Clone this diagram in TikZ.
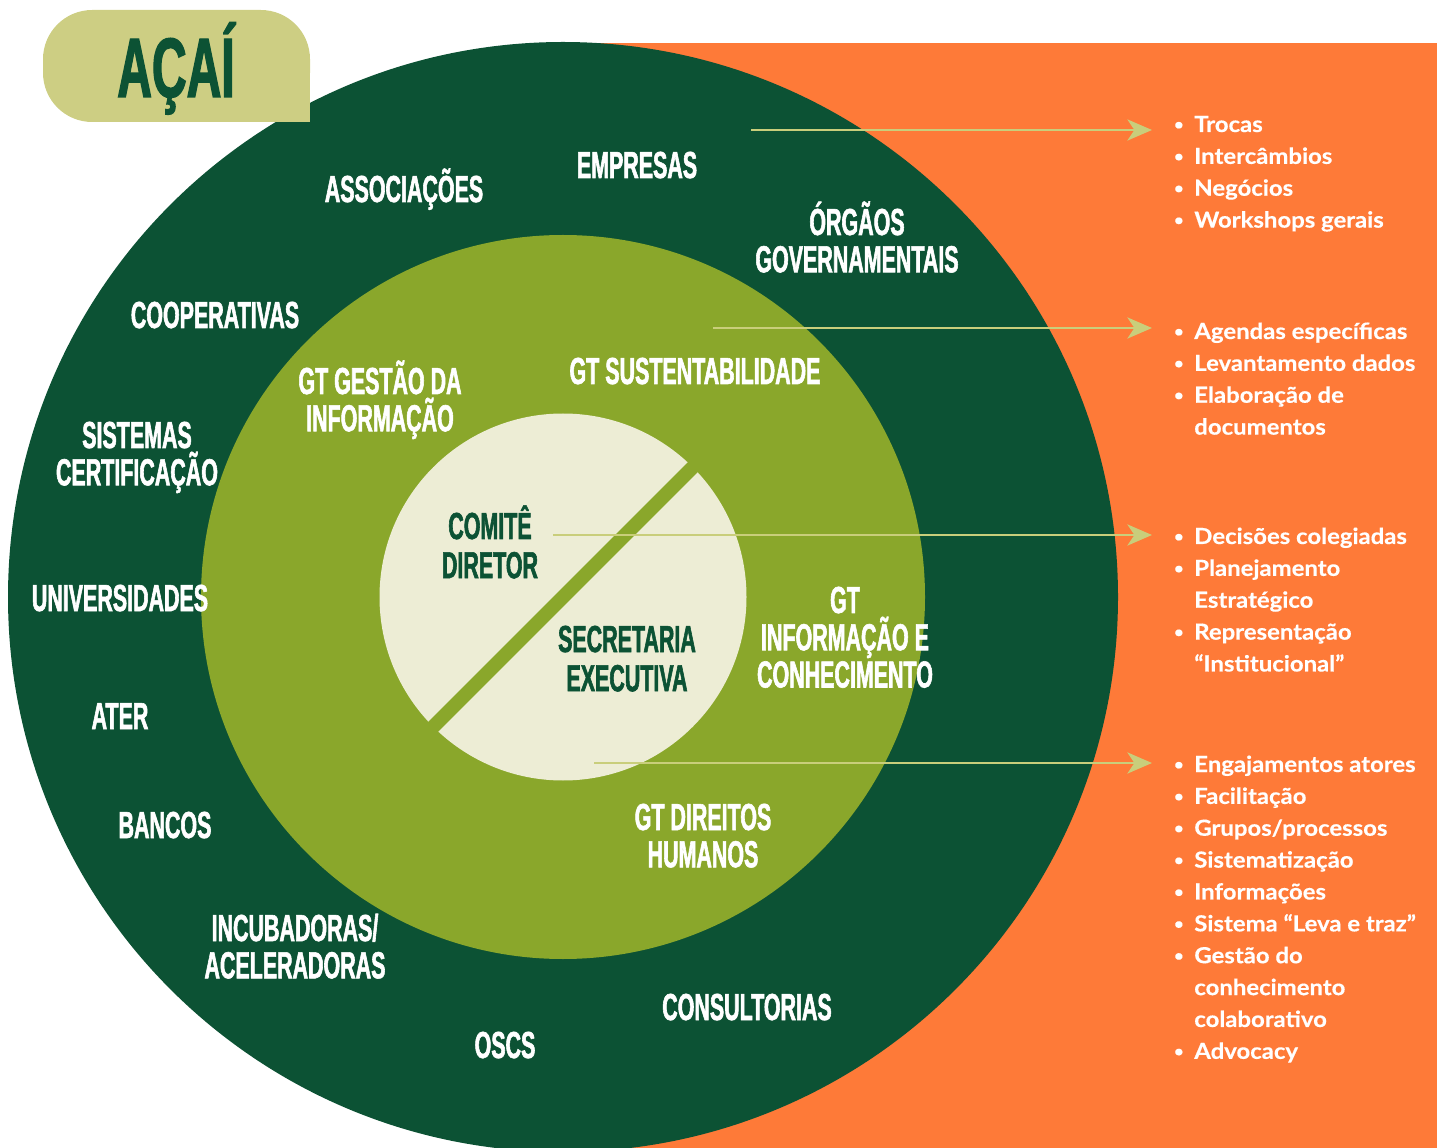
\documentclass[tikz,border=0pt]{standalone}
\usepackage{fontspec}
\usepackage{tikz}
\usetikzlibrary{arrows.meta,positioning}
\newfontfamily\lblfont[FakeStretch=0.57,FakeBold=1.5]{Liberation Sans Bold}
\newfontfamily\listfont[FakeStretch=1.08,FakeBold=0.4]{Lato}
\definecolor{darkgreen}{HTML}{0C5234}
\definecolor{olive}{HTML}{8AA72B}
\definecolor{cream}{HTML}{EDEDD5}
\definecolor{orangebg}{HTML}{FE7A38}
\definecolor{titlebg}{HTML}{CDCE83}
\definecolor{arrowgreen}{HTML}{C9CE7B}
\newcommand{\bl}{\makebox[12.5pt][l]{\hspace{1pt}\raisebox{1.3pt}{\fontsize{8.6}{8.6}\selectfont\textbullet}}}
\newcommand{\ind}{\hspace*{12.5pt}}

\begin{document}
\begin{tikzpicture}[x=0.02cm,y=-0.02cm]
\tikzstyle{ring}=[font=\lblfont\fontsize{21.4}{21.4}\selectfont, text=white,
inner sep=0pt, text height=16pt, text depth=5pt, node distance=21.2pt]
\tikzstyle{core}=[ring, text=darkgreen, node distance=22.3pt]
\tikzstyle{items}=[font=\listfont\bfseries\fontsize{12.6}{18.14}\selectfont,
text=white, inner sep=0pt, anchor=base west]
\tikzstyle{arr}=[draw=arrowgreen, line width=1.7pt,
-{Stealth[length=14pt,width=12pt,inset=4pt]}]

\useasboundingbox (0,0) rectangle (1437,1148);
\clip (0,0) rectangle (1437,1148);
\fill[orangebg] (560,43) rectangle (1437,1148);
\fill[darkgreen] (563,597) circle (555);
\fill[olive] (563,597) circle (362);
\fill[cream] (563,597) circle (183.5);
\draw[olive, line width=7.9pt] (703,457) -- (423,737);
\fill[titlebg, rounded corners=28pt] (43,10) rectangle (310,122);
\fill[titlebg] (200,66) rectangle (310,122);

\node[font=\lblfont\fontsize{48}{48}\selectfont, text=darkgreen, inner sep=0pt,
anchor=base] (acai) at (176,97) {AÇAÍ};

\node[ring, anchor=base] (assoc) at (404,202) {ASSOCIAÇÕES};
\node[ring, anchor=base] (emp) at (637,178) {EMPRESAS};
\node[ring, anchor=base] (org1) at (857,235) {ÓRGÃOS};
\node[ring, below of =org1] (org2) {GOVERNAMENTAIS};
\node[ring, anchor=base] (coop) at (215,328) {COOPERATIVAS};
\node[ring, anchor=base] (sis1) at (137,448) {SISTEMAS};
\node[ring, below of =sis1] (sis2) {CERTIFICAÇÃO};
\node[ring, anchor=base] (univ) at (120,611) {UNIVERSIDADES};
\node[ring, anchor=base] (ater) at (120,729) {ATER};
\node[ring, anchor=base] (banc) at (165,838) {BANCOS};
\node[ring, anchor=base] (inc1) at (295,941) {INCUBADORAS/};
\node[ring, below of =inc1] (inc2) {ACELERADORAS};
\node[ring, anchor=base] (oscs) at (505,1058) {OSCS};
\node[ring, anchor=base] (cons) at (747,1020) {CONSULTORIAS};

\node[ring, anchor=base] (gtg1) at (380,394) {GT GESTÃO DA};
\node[ring, below of =gtg1] (gtg2) {INFORMAÇÃO};
\node[ring, anchor=base] (gts) at (695,384) {GT SUSTENTABILIDADE};
\node[ring, anchor=base] (gti1) at (845,613) {GT};
\node[ring, below of =gti1] (gti2) {INFORMAÇÃO E};
\node[ring, below of =gti2] (gti3) {CONHECIMENTO};
\node[ring, anchor=base] (gtd1) at (703,830) {GT DIREITOS};
\node[ring, below of =gtd1] (gtd2) {HUMANOS};

\node[core, anchor=base] (com1) at (490,539) {COMITÊ};
\node[core, below of =com1] (com2) {DIRETOR};
\node[core, anchor=base] (sec1) at (627,652) {SECRETARIA};
\node[core, below of =sec1] (sec2) {EXECUTIVA};

\node[items] (l1) at (1172,132) {\begin{tabular}[t]{@{}l@{}}
\bl Trocas\\ \bl Intercâmbios\\ \bl Negócios\\ \bl Workshops gerais
\end{tabular}};
\node[items] (l2) at (1172,339) {\begin{tabular}[t]{@{}l@{}}
\bl Agendas específicas\\ \bl Levantamento dados\\ \bl Elaboração de\\
\ind documentos
\end{tabular}};
\node[items] (l3) at (1172,544) {\begin{tabular}[t]{@{}l@{}}
\bl Decisões colegiadas\\ \bl Planejamento\\ \ind Estratégico\\
\bl Representação\\ \ind “Institucional”
\end{tabular}};
\node[items] (l4) at (1172,772) {\begin{tabular}[t]{@{}l@{}}
\bl Engajamentos atores\\ \bl Facilitação\\ \bl Grupos/processos\\
\bl Sistematização\\ \bl Informações\\ \bl Sistema “Leva e traz”\\
\bl Gestão do\\ \ind conhecimento\\ \ind colaborativo\\ \bl Advocacy
\end{tabular}};

\coordinate (s1) at (751,130);
\coordinate (t1) at (1152,130);
\coordinate (s2) at (713,328);
\coordinate (t2) at (1152,328);
\coordinate (s3) at (553,535);
\coordinate (t3) at (1152,535);
\coordinate (s4) at (594,763);
\coordinate (t4) at (1152,763);

\draw[arr] (s1) -- (t1) ;
\draw[arr] (s2) -- (t2) ;
\draw[arr] (s3) -- (t3) ;
\draw[arr] (s4) -- (t4) ;

\end{tikzpicture}
\end{document}
